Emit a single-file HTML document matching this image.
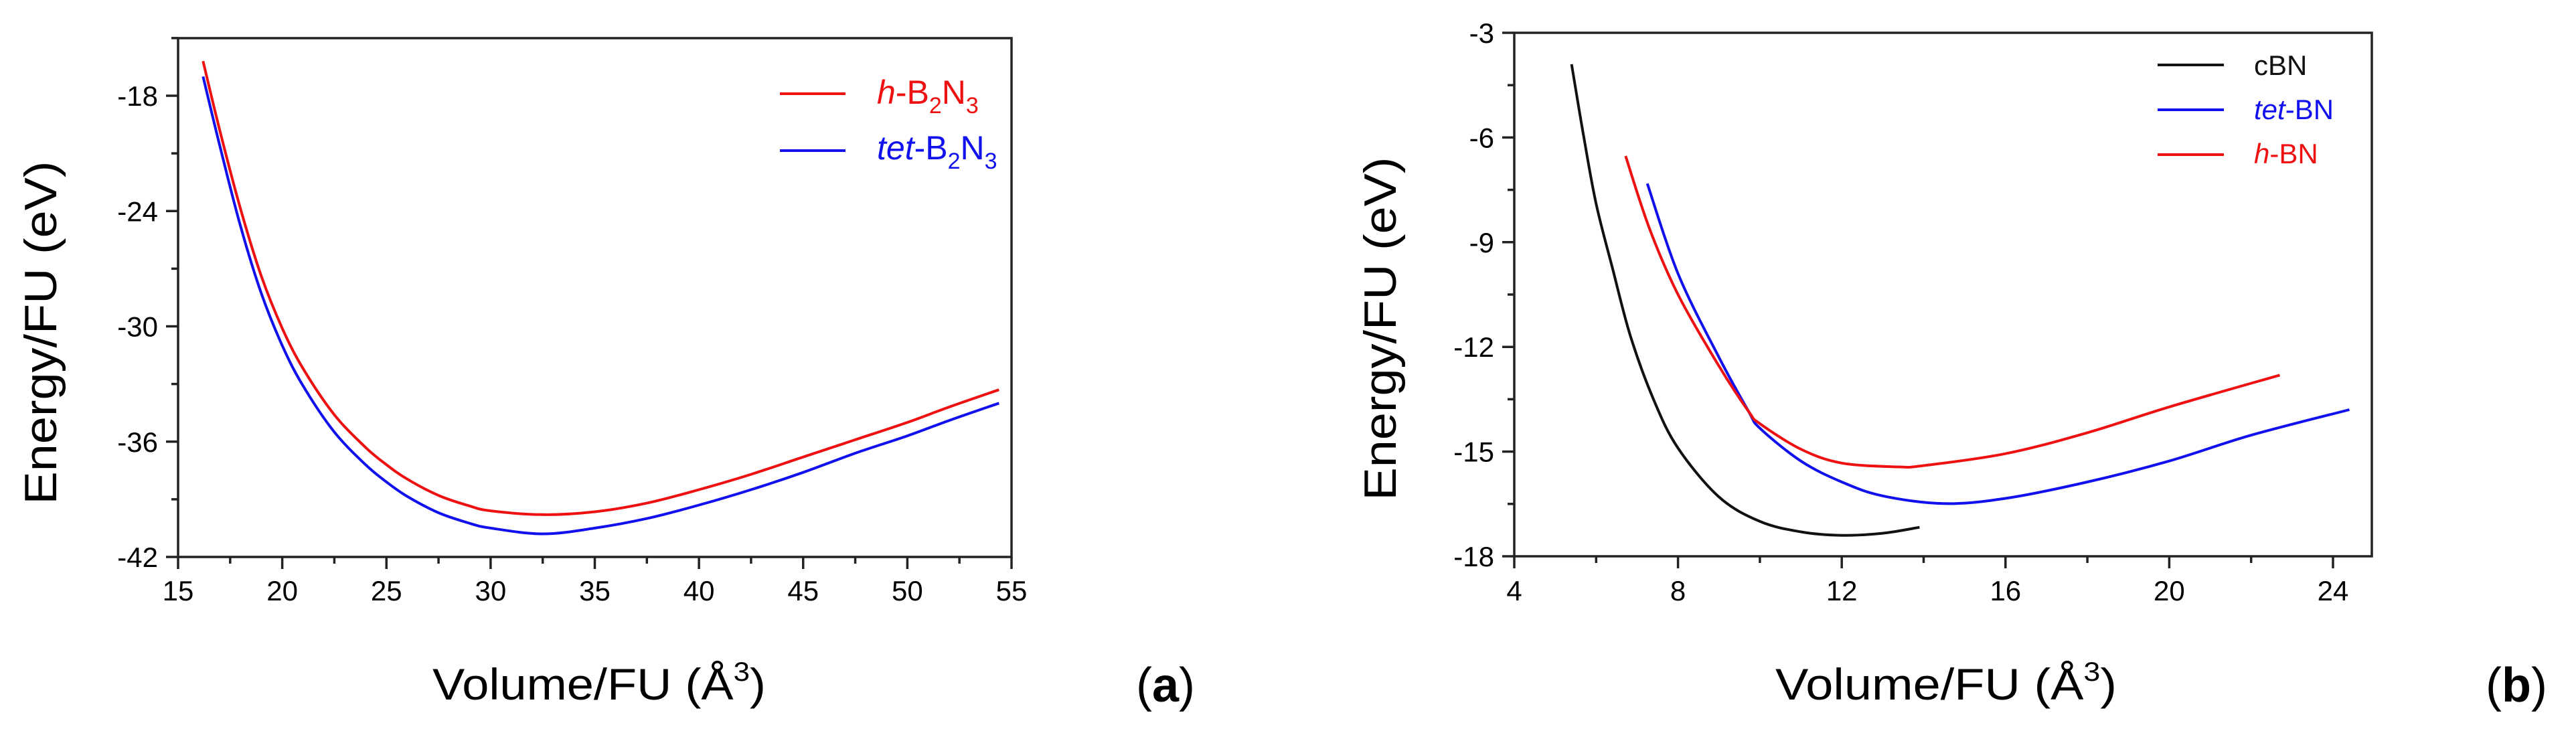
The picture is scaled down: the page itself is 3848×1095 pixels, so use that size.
<!DOCTYPE html>
<html><head><meta charset="utf-8"><style>
html,body{margin:0;padding:0;background:#fff;}
svg{display:block;}
text{font-family:"Liberation Sans",sans-serif;}
</style></head><body>
<svg id="chart" width="3848" height="1095" viewBox="0 0 3848 1095" xmlns="http://www.w3.org/2000/svg">
<g id="pa"></g>
<g id="pb"></g>
<text x="0" y="0" font-size="68" textLength="513" lengthAdjust="spacingAndGlyphs" text-anchor="middle" transform="translate(84,497) rotate(-90)">Energy/FU (eV)</text>
<text x="895" y="1045" font-size="66" text-anchor="middle" textLength="498" lengthAdjust="spacingAndGlyphs">Volume/FU (Å<tspan font-size="40" dy="-28">3</tspan><tspan dy="28">)</tspan></text>
<text x="1697" y="1048" font-size="72" font-family="Liberation Serif, serif">(<tspan font-weight="bold">a</tspan>)</text>
<text x="0" y="0" font-size="68" textLength="513" lengthAdjust="spacingAndGlyphs" text-anchor="middle" transform="translate(2085,491) rotate(-90)">Energy/FU (eV)</text>
<text x="2907" y="1045" font-size="66" text-anchor="middle" textLength="510" lengthAdjust="spacingAndGlyphs">Volume/FU (Å<tspan font-size="40" dy="-28">3</tspan><tspan dy="28">)</tspan></text>
<text x="3713" y="1048" font-size="72" font-family="Liberation Serif, serif">(<tspan font-weight="bold">b</tspan>)</text>
</svg>
<script>
// Panel (a) data
const aXTicks = [15,20,25,30,35,40,45,50,55];
const aYTicks = [-42,-36,-30,-24,-18];
const hB2N3_x = [16.2,17,18,19,20,21,22.5,24,25,26,27.5,29,30,32.5,35,37.5,40,42.5,45,47.5,50,52,54.4];
const hB2N3_y = [-16.2,-19.8,-23.9,-27.4,-30.1,-32.2,-34.6,-36.3,-37.2,-37.95,-38.8,-39.35,-39.6,-39.8,-39.65,-39.2,-38.5,-37.7,-36.8,-35.9,-35.0,-34.2,-33.3];
const tetB2N3_x = [16.2,17,18,19,20,21,22.5,24,25,26,27.5,29,30,32.5,35,37.5,40,42.5,45,47.5,50,52,54.4];
const tetB2N3_y = [-17.0,-20.6,-24.8,-28.3,-31.0,-33.1,-35.5,-37.2,-38.1,-38.85,-39.7,-40.25,-40.5,-40.8,-40.5,-40.0,-39.3,-38.5,-37.6,-36.6,-35.7,-34.9,-34.0];
// Panel (b) data
const bXTicks = [4,8,12,16,20,24];
const bYTicks = [-18,-15,-12,-9,-6,-3];
const cBN_x = [5.4,5.7,6.0,6.4,6.84,7.4,8,9,10,11,12,13,13.9];
const cBN_y = [-3.9,-6.0,-7.9,-9.75,-11.7,-13.5,-14.9,-16.3,-17.0,-17.3,-17.4,-17.34,-17.17];
const tetBN_x = [7.25,8,9,9.73,10,11,12,13,14.5,16,18,20,22,24.4];
const tetBN_y = [-7.32,-9.9,-12.3,-13.86,-14.33,-15.27,-15.87,-16.27,-16.49,-16.34,-15.87,-15.27,-14.53,-13.8];
const hBN_x = [6.72,7.3,8,9,9.73,10,11,12,13.4,14,16,18,20,22.7];
const hBN_y = [-6.53,-8.6,-10.5,-12.55,-13.86,-14.2,-14.93,-15.33,-15.44,-15.4,-15.06,-14.46,-13.72,-12.81];

const NS='http://www.w3.org/2000/svg';
function mk(tag,attrs,parent){const e=document.createElementNS(NS,tag);for(const k in attrs)e.setAttribute(k,attrs[k]);parent.appendChild(e);return e;}

function smoothPath(P){
  let d='M'+P[0][0].toFixed(1)+','+P[0][1].toFixed(1);
  for(let i=0;i<P.length-1;i++){
    const p0=P[i-1]||P[i],p1=P[i],p2=P[i+1],p3=P[i+2]||P[i+1];
    const c1x=p1[0]+(p2[0]-p0[0])/6,c1y=p1[1]+(p2[1]-p0[1])/6;
    const c2x=p2[0]-(p3[0]-p1[0])/6,c2y=p2[1]-(p3[1]-p1[1])/6;
    d+='C'+c1x.toFixed(1)+','+c1y.toFixed(1)+' '+c2x.toFixed(1)+','+c2y.toFixed(1)+' '+p2[0].toFixed(1)+','+p2[1].toFixed(1);
  }
  return d;
}

function panel(g,cfg){
  const sx=v=>cfg.x0+(v-cfg.xmin)/(cfg.xmax-cfg.xmin)*(cfg.x1-cfg.x0);
  const sy=v=>cfg.y1-(v-cfg.ymin)/(cfg.ymax-cfg.ymin)*(cfg.y1-cfg.y0);
  cfg.series.forEach(s=>{
    const P=s.x.map((v,i)=>[sx(v),sy(s.y[i])]);
    const p=mk('path',{d:smoothPath(P),fill:'none',stroke:s.color,'stroke-width':4,'stroke-linejoin':'round'},g);
    
    
  });
  const fr=mk('rect',{x:cfg.x0,y:cfg.y0,width:cfg.x1-cfg.x0,height:cfg.y1-cfg.y0,fill:'none',stroke:'#222','stroke-width':3.5},g);
  
  
  const xStep=cfg.xTicks[1]-cfg.xTicks[0];
  cfg.xTicks.forEach((t,i)=>{
    const x=sx(t);
    const tk=mk('line',{x1:x,y1:cfg.y1,x2:x,y2:cfg.y1+18,stroke:'#222','stroke-width':3.5},g);
    
    
    if(i<cfg.xTicks.length-1){const xm=sx(t+xStep/2);
      const m=mk('line',{x1:xm,y1:cfg.y1,x2:xm,y2:cfg.y1+10,stroke:'#222','stroke-width':3.5},g);
      
      }
    const lb=mk('text',{x:x,y:897,'font-size':42,'text-anchor':'middle'},g);
    lb.textContent=t;
    
    
  });
  const yStep=cfg.yTicks[1]-cfg.yTicks[0];
  cfg.yTicks.forEach((t,i)=>{
    const y=sy(t);
    const tk=mk('line',{x1:cfg.x0-18,y1:y,x2:cfg.x0,y2:y,stroke:'#222','stroke-width':3.5},g);
    
    
    const ym=sy(t+yStep/2);
    if(ym>=cfg.y0-1){
      const m=mk('line',{x1:cfg.x0-10,y1:ym,x2:cfg.x0,y2:ym,stroke:'#222','stroke-width':3.5},g);
      
      }
    const lb=mk('text',{x:cfg.x0-30,y:y+15,'font-size':42,'text-anchor':'end'},g);
    lb.textContent=t;
    
    
  });
  cfg.legend.forEach(L=>{
    const ln=mk('line',{x1:L.lx0,y1:L.ly,x2:L.lx1,y2:L.ly,stroke:L.color,'stroke-width':4},g);
    
    
    const tx=mk('text',{x:L.tx,y:L.ty,'font-size':L.fs,fill:L.color},g);
    tx.innerHTML=L.html;
    
    
  });
}

panel(document.getElementById('pa'),{
  x0:266,x1:1511,y0:57,y1:832,xmin:15,xmax:55,ymin:-42,ymax:-42+(832-57)/((832-143)/24),
  xTicks:aXTicks,yTicks:aYTicks,
  series:[{name:'h-B2N3',x:hB2N3_x,y:hB2N3_y,color:'#ee1111'},{name:'tet-B2N3',x:tetB2N3_x,y:tetB2N3_y,color:'#1111ee'}],
  legend:[
    {lx0:1165,lx1:1263,ly:140,tx:1310,ty:155,fs:50,color:'#ee1111',html:'<tspan font-style="italic">h</tspan>-B<tspan font-size="34" dy="14">2</tspan><tspan dy="-14">N</tspan><tspan font-size="34" dy="14">3</tspan>'},
    {lx0:1165,lx1:1263,ly:225,tx:1310,ty:238,fs:50,color:'#1111ee',html:'<tspan font-style="italic">tet</tspan>-B<tspan font-size="34" dy="14">2</tspan><tspan dy="-14">N</tspan><tspan font-size="34" dy="14">3</tspan>'}
  ]
});
panel(document.getElementById('pb'),{
  x0:2262,x1:3543,y0:49,y1:831,xmin:4,xmax:4+(3543-2262)/((3485-2262)/20),ymin:-18,ymax:-3,
  xTicks:bXTicks,yTicks:bYTicks,
  series:[{name:'cBN',x:cBN_x,y:cBN_y,color:'#111'},{name:'tet-BN',x:tetBN_x,y:tetBN_y,color:'#1111ee'},{name:'h-BN',x:hBN_x,y:hBN_y,color:'#ee1111'}],
  legend:[
    {lx0:3223,lx1:3322,ly:97,tx:3367,ty:112,fs:42,color:'#111',html:'cBN'},
    {lx0:3223,lx1:3322,ly:164,tx:3367,ty:178,fs:42,color:'#1111ee',html:'<tspan font-style="italic">tet</tspan>-BN'},
    {lx0:3223,lx1:3322,ly:231,tx:3367,ty:244,fs:42,color:'#ee1111',html:'<tspan font-style="italic">h</tspan>-BN'}
  ]
});
</script>
</body></html>
